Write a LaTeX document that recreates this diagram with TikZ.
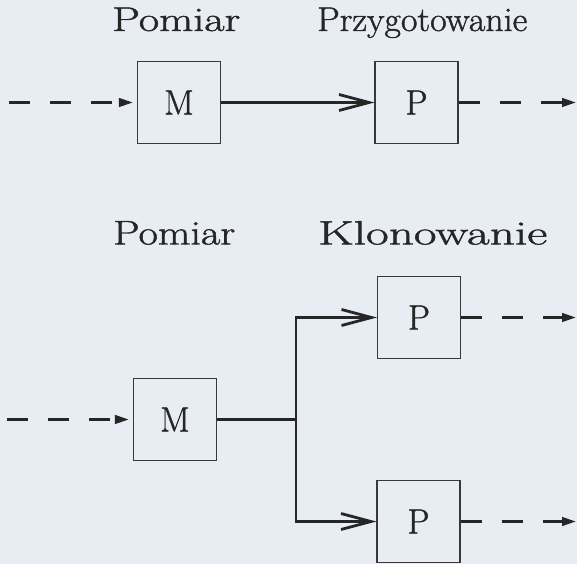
\documentclass[tikz,border=0pt]{standalone}
\usepackage{fontspec}
\usetikzlibrary{arrows.meta}
\newfontfamily\figfont{Latin Modern Roman}[FakeBold=1.2]
\definecolor{paper}{HTML}{E8EDF3}
\definecolor{ink}{HTML}{262626}
\definecolor{frame}{HTML}{383838}
\tikzset{
  block/.style={draw=frame, line width=1.1pt, inner sep=0pt,
    minimum width=83pt, minimum height=82pt,
    font=\figfont\fontsize{35}{40}\selectfont, text=ink},
  wire/.style={draw=ink, line width=2.8pt},
  flow/.style={wire, line join=miter,
    -{Straight Barb[length=30pt,width=16pt]}},
  signal/.style={draw=ink, line width=2.7pt, dash pattern=on 21pt off 20pt,
    -{Triangle[length=14pt,width=8.5pt]}},
  heading/.style={anchor=base west, inner sep=0pt, text=ink}
}
\newcommand{\headtext}[3]{\resizebox{#1}{#2}{\figfont\fontsize{34}{40}\selectfont #3}}
\begin{document}
\begin{tikzpicture}[x=1pt,y=-1pt]
  \fill[paper] (0,0) rectangle (577,564);
  \useasboundingbox (0,0) rectangle (577,564);

  % upper chain: measurement followed by preparation
  \node[heading] (hmA) at (112,31) {\headtext{128pt}{23.5pt}{Pomiar}};
  \node[heading] (hpA) at (317,31) {\headtext{210pt}{23.5pt}{Przygotowanie}};
  \node[block] (mA) at (179,102.5) {M};
  \node[block] (pA) at (416.5,102.5) {P};
  \coordinate (inA) at (9,102.5);
  \coordinate (outA) at (576,102.5);
  \draw[signal, shorten >=4pt] (inA) -- (mA.west);
  \draw[flow] (mA.east) -- (pA.west);
  \draw[signal] (pA.east) -- (outA);

  % lower chain: measurement followed by cloning
  \node[heading] (hmB) at (113,244.5) {\headtext{122pt}{23.5pt}{Pomiar}};
  \node[heading] (hkB) at (318,244.5) {\headtext{229pt}{23.5pt}{Klonowanie}};
  \node[block] (mB) at (175,419.5) {M};
  \node[block] (pB) at (419,317.5) {P};
  \node[block] (pC) at (418.5,521.5) {P};
  \coordinate (inB) at (7,419.5);
  \coordinate (fork) at (296,419.5);
  \coordinate (outB) at (576,317.5);
  \coordinate (outC) at (576,521.5);
  \draw[signal, shorten >=4pt] (inB) -- (mB.west);
  \draw[wire] (mB.east) -- (fork);
  \draw[flow] (fork) |- (pB.west);
  \draw[flow] (fork) |- (pC.west);
  \draw[signal] (pB.east) -- (outB);
  \draw[signal] (pC.east) -- (outC);
\end{tikzpicture}
\end{document}
